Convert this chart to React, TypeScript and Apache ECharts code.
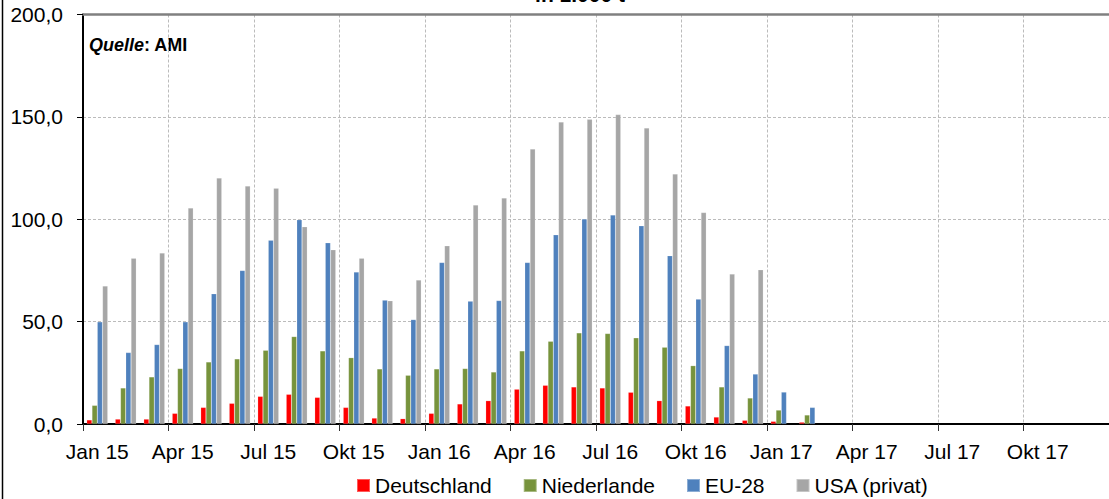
import React, { useEffect, useRef } from "react";
import * as echarts from "echarts";

const months = ["Jan", "Feb", "Mär", "Apr", "Mai", "Jun", "Jul", "Aug", "Sep", "Okt", "Nov", "Dez"];
const years = ["15", "16", "17"];
const categories: string[] = [];
years.forEach((y) => months.forEach((m) => categories.push(m + " " + y)));

const seriesNames = ["Deutschland", "Niederlande", "EU-28", "USA (privat)"];
const seriesColors = ["#FF0000", "#77933C", "#4F81BD", "#A6A6A6"];

const deutschland = [2.0, 2.4, 2.4, 5.2, 8.1, 10.1, 13.5, 14.5, 13.0, 8.1, 2.9, 2.6, 5.2, 9.8, 11.4, 17.0, 18.9, 18.1, 17.6, 15.5, 11.4, 8.8, 3.4, 1.8, 1.3, 0.9, null, null, null, null, null, null, null, null, null, null];
const niederlande = [9.1, 17.6, 23.0, 27.1, 30.3, 31.8, 36.0, 42.7, 35.7, 32.4, 26.9, 23.8, 26.9, 27.1, 25.4, 35.7, 40.4, 44.5, 44.2, 42.1, 37.5, 28.5, 18.1, 12.7, 6.8, 4.4, null, null, null, null, null, null, null, null, null, null];
const eu28 = [49.9, 34.9, 38.8, 49.9, 63.6, 75.0, 89.8, 99.8, 88.5, 74.2, 60.5, 51.0, 78.9, 60.0, 60.3, 78.9, 92.4, 100.1, 102.1, 96.8, 82.2, 61.0, 38.3, 24.4, 15.6, 8.1, null, null, null, null, null, null, null, null, null, null];
const usa = [67.4, 81.0, 83.5, 105.5, 120.1, 116.2, 115.2, 96.3, 85.1, 81.0, 60.2, 70.3, 87.0, 106.9, 110.4, 134.3, 147.5, 148.8, 151.1, 144.6, 122.1, 103.3, 73.2, 75.3, null, null, null, null, null, null, null, null, null, null, null, null];
const seriesData = [deutschland, niederlande, eu28, usa];

const yTicks = [0, 50, 100, 150, 200];
const titleText = "in 1.000 t";

const FONT = "'Liberation Sans', Arial, sans-serif";

export default function App() {
  const ref = useRef<HTMLDivElement>(null);
  useEffect(() => {
    if (!ref.current) return;
    const chart = echarts.init(ref.current, undefined, { renderer: "svg" });
    chart.setOption({
      animation: false,
      textStyle: { fontFamily: FONT },
      grid: { left: 83, right: -9, top: 14.5, bottom: 75, containLabel: false },
      legend: {
        left: 351,
        top: 470,
        icon: "rect",
        itemWidth: 13,
        itemHeight: 13,
        itemGap: 31,
        textStyle: { fontSize: 21, color: "#000", fontFamily: FONT },
        data: seriesNames,
      },
      graphic: [
        { type: "line", shape: { x1: 2.5, y1: 0, x2: 2.5, y2: 499 }, style: { stroke: "#000", lineWidth: 1.5 } },
        {
          type: "text",
          x: 580,
          y: -6,
          style: { text: titleText, font: "bold 21px " + FONT, fill: "#000", textAlign: "center", textVerticalAlign: "middle" },
        },
        {
          type: "text",
          x: 89,
          y: 45,
          style: {
            text: "{a|Quelle}{b|: AMI}",
            textVerticalAlign: "middle",
            rich: {
              a: { fontSize: 18, fontWeight: "bold", fontStyle: "italic", fontFamily: FONT, fill: "#000" },
              b: { fontSize: 18, fontWeight: "bold", fontFamily: FONT, fill: "#000" },
            },
          },
        },
      ],
      xAxis: [
        {
          type: "category",
          data: categories,
          boundaryGap: true,
          axisLine: { show: true, lineStyle: { color: "#000", width: 2 } },
          axisTick: { show: true, interval: 2, length: 7, lineStyle: { color: "#333", width: 1 } },
          axisLabel: { interval: 2, fontSize: 21, color: "#000", margin: 17, fontFamily: FONT },
          splitLine: { show: true, interval: 2, lineStyle: { color: "#BBBBBB", type: [3, 2], width: 1 } },
        },
        {
          type: "category",
          data: categories,
          position: "top",
          axisLine: { show: true, lineStyle: { color: "#808080", width: 2.5 } },
          axisTick: { show: false },
          axisLabel: { show: false },
          splitLine: { show: false },
        },
      ],
      yAxis: {
        type: "value",
        min: yTicks[0],
        max: yTicks[yTicks.length - 1],
        interval: 50,
        axisLine: { show: true, lineStyle: { color: "#000", width: 2 } },
        axisTick: { show: true, length: 6, lineStyle: { color: "#000", width: 1 } },
        axisLabel: {
          fontSize: 21,
          color: "#000",
          margin: 20,
          fontFamily: FONT,
          formatter: (v: number) => v.toFixed(1).replace(".", ","),
        },
        splitLine: { show: true, lineStyle: { color: "#BBBBBB", type: [3, 2], width: 1 } },
      },
      series: seriesNames.map((name, i) => ({
        name,
        type: "bar",
        xAxisIndex: 0,
        data: seriesData[i],
        barGap: "0%",
        barCategoryGap: "26%",
        itemStyle: { color: seriesColors[i], borderColor: "rgba(255,255,255,0.35)", borderWidth: 0.5 },
      })),
    });
    return () => chart.dispose();
  }, []);
  return <div ref={ref} style={{ position: "fixed", left: 0, top: 0, width: 1109, height: 499, background: "#fff" }} />;
}
